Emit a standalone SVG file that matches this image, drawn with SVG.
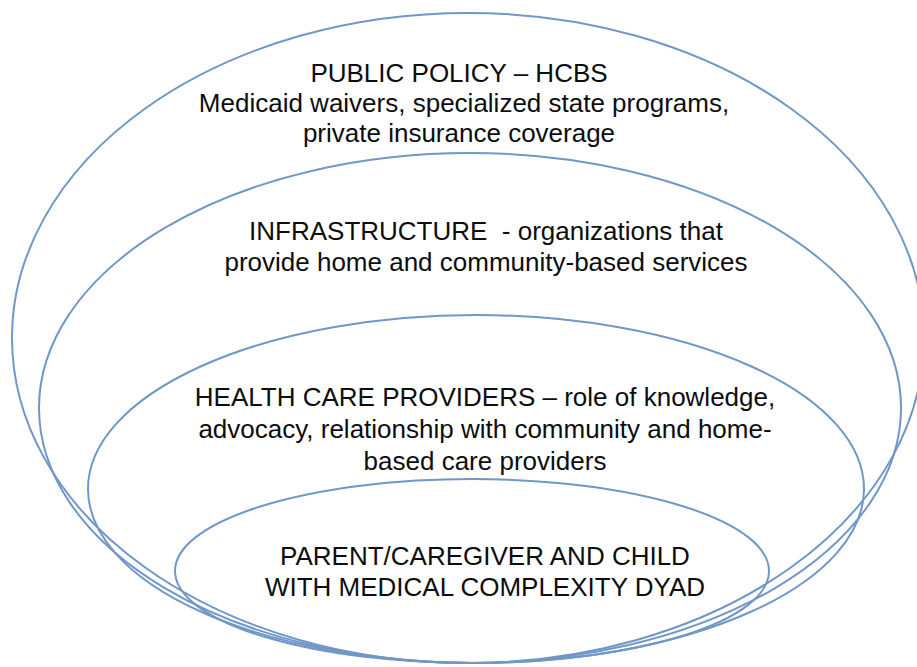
<svg xmlns="http://www.w3.org/2000/svg" width="917" height="667" viewBox="0 0 917 667">
<style>
.ring{fill:none;stroke:#7097c8;stroke-width:2}
.t{font-family:"Liberation Sans",Arial,sans-serif;font-size:26px;fill:#0d0d0d;text-anchor:middle;white-space:pre}
</style>
<rect width="917" height="667" fill="#ffffff"/>
<g id="public-policy">
<ellipse class="ring" cx="468" cy="338" rx="456" ry="325"/>
<text class="t" x="459" y="82">PUBLIC POLICY – HCBS</text>
<text class="t" x="464" y="112">Medicaid waivers, specialized state programs,</text>
<text class="t" x="459" y="142">private insurance coverage</text>
</g>
<g id="infrastructure">
<ellipse class="ring" cx="470" cy="408" rx="431" ry="255"/>
<text class="t" x="486" y="240">INFRASTRUCTURE  - organizations that</text>
<text class="t" x="486" y="271">provide home and community-based services</text>
</g>
<g id="health-care-providers">
<ellipse class="ring" cx="476" cy="489" rx="388" ry="174"/>
<text class="t" x="485" y="406">HEALTH CARE PROVIDERS – role of knowledge,</text>
<text class="t" x="485" y="438">advocacy, relationship with community and home-</text>
<text class="t" x="485" y="470">based care providers</text>
</g>
<g id="dyad">
<ellipse class="ring" cx="472" cy="571" rx="297" ry="92"/>
<text class="t" x="485" y="565">PARENT/CAREGIVER AND CHILD</text>
<text class="t" x="485" y="596">WITH MEDICAL COMPLEXITY DYAD</text>
</g>
<g id="connectors"></g>
</svg>
